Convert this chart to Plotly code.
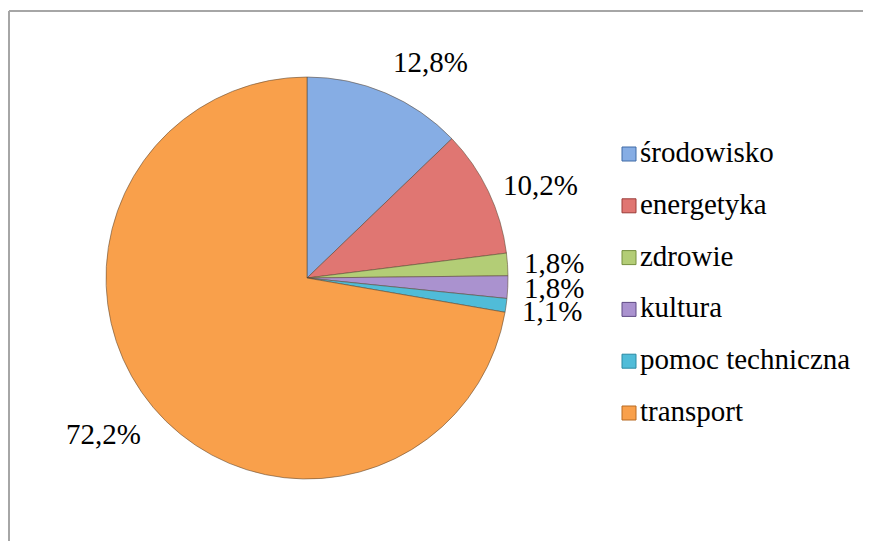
import math
import plotly.graph_objects as go

# ---- data ----
categories = ["środowisko", "energetyka", "zdrowie", "kultura", "pomoc techniczna", "transport"]
values = [12.8, 10.2, 1.8, 1.8, 1.1, 72.2]
colors = ["#86ade4", "#e07672", "#b3cd76", "#aa92cf", "#50bcd8", "#f9a04b"]
edge_colors = ["#3f6aa6", "#9c3c39", "#76903f", "#5f4a85", "#2b8aa3", "#b86a22"]

# page body adds an 8px margin, so the figure is 8px smaller and all
# reference pixel positions are shifted by OFF
OFF = 8
W, H = 871 - OFF, 541 - OFF


def fx(px):
    return (px - OFF) / W


def fy(py):
    return 1 - (py - OFF) / H


# pie geometry in reference pixels
px0, px1 = 105, 509
py0, py1 = 77, 479
cx, cy = (px0 + px1) / 2, (py0 + py1) / 2
R = min(px1 - px0, py1 - py0) / 2

FONT = "Liberation Serif, DejaVu Serif, serif"
FS = 29

fig = go.Figure()
fig.add_trace(go.Pie(
    labels=categories,
    values=values,
    sort=False,
    direction="clockwise",
    rotation=0,
    textinfo="none",
    hoverinfo="label+percent",
    showlegend=False,
    marker=dict(colors=colors, line=dict(color="rgba(90,70,50,0.55)", width=1)),
    domain=dict(x=[fx(px0), fx(px1)], y=[fy(py1), fy(py0)]),
))

annotations = []
total = sum(values)
cum = 0.0
gap = 14
min_sep = 23.5
prev_right_y = None
for v in values:
    mid = (cum + v / 2) / total * 2 * math.pi
    cum += v
    s, c = math.sin(mid), math.cos(mid)
    xp = cx + (R + gap) * s
    yp = cy - (R + gap) * c
    xanchor = "left" if s > 0.1 else ("right" if s < -0.1 else "center")
    yanchor = "bottom" if c > 0.5 else ("top" if c < -0.5 else "middle")
    if xanchor == "left" and yanchor == "middle":
        if prev_right_y is not None and yp - prev_right_y < min_sep:
            yp = prev_right_y + min_sep
        prev_right_y = yp
    annotations.append(dict(
        x=fx(xp), y=fy(yp), xref="paper", yref="paper",
        text=f"{v:.1f}".replace(".", ",") + "%",
        showarrow=False, xanchor=xanchor, yanchor=yanchor,
        font=dict(family=FONT, size=FS, color="#000000"),
    ))

# manual legend
shapes = []
leg_x_box = 622
leg_x_text = 638
leg_y0 = 152
leg_dy = 51.8
box = 14
for i, (lab, col, ec) in enumerate(zip(categories, colors, edge_colors)):
    yc = leg_y0 + i * leg_dy
    shapes.append(dict(
        type="rect", xref="paper", yref="paper",
        x0=fx(leg_x_box), x1=fx(leg_x_box + box),
        y0=fy(yc + 2 + box / 2), y1=fy(yc + 2 - box / 2),
        fillcolor=col, line=dict(color=ec, width=1),
    ))
    annotations.append(dict(
        x=fx(leg_x_text), y=fy(yc), xref="paper", yref="paper",
        text=lab, showarrow=False, xanchor="left", yanchor="middle",
        font=dict(family=FONT, size=FS, color="#000000"),
    ))

# chart border (top and left visible)
shapes.append(dict(type="line", xref="paper", yref="paper",
                   x0=fx(9), x1=1.02, y0=fy(11), y1=fy(11),
                   line=dict(color="#a6a6a6", width=2)))
shapes.append(dict(type="line", xref="paper", yref="paper",
                   x0=fx(9), x1=fx(9), y0=fy(11), y1=-0.02,
                   line=dict(color="#a6a6a6", width=2)))

fig.update_layout(
    width=W, height=H,
    margin=dict(l=0, r=0, t=0, b=0),
    paper_bgcolor="white",
    plot_bgcolor="white",
    annotations=annotations,
    shapes=shapes,
    showlegend=False,
)

fig.write_html("out.html")
